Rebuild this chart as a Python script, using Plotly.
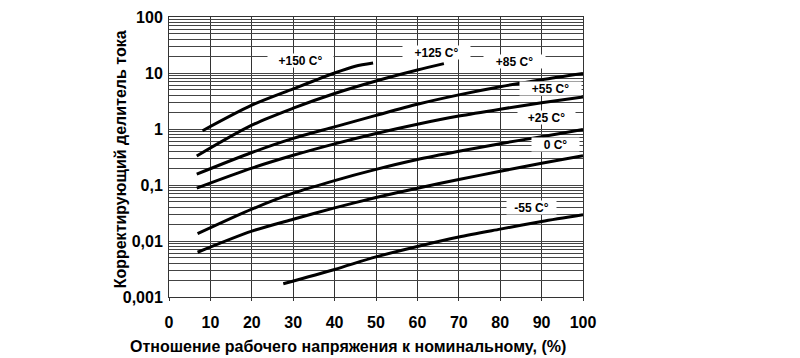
import plotly.graph_objects as go

# ---- data ----
x_150 = [8.1, 20, 30, 40, 45, 49.3]
y_150 = [0.93, 2.66, 5.2, 10.0, 13.2, 15.1]

x_125 = [6.7, 20, 30, 40, 50, 60, 66.4]
y_125 = [0.33, 1.17, 2.35, 4.3, 7.2, 11.3, 14.7]

x_85 = [6.7, 20, 30, 40, 50, 60, 70, 80, 90, 100]
y_85 = [0.156, 0.38, 0.68, 1.09, 1.75, 2.77, 4.07, 5.69, 7.59, 9.8]

x_55 = [6.7, 20, 30, 40, 50, 60, 70, 80, 90, 100]
y_55 = [0.088, 0.20, 0.339, 0.543, 0.832, 1.216, 1.70, 2.26, 2.94, 3.74]

x_25 = [6.9, 20, 30, 40, 50, 60, 70, 80, 90, 100]
y_25 = [0.0135, 0.037, 0.0714, 0.12, 0.19, 0.285, 0.40, 0.547, 0.73, 0.98]

x_0 = [6.9, 20, 30, 40, 50, 60, 70, 80, 90, 100]
y_0 = [0.0063, 0.0150, 0.0245, 0.039, 0.0597, 0.0877, 0.125, 0.176, 0.244, 0.334]

x_m55 = [27.6, 40, 50, 60, 70, 80, 90, 100]
y_m55 = [0.00172, 0.0031, 0.0052, 0.0080, 0.0118, 0.0163, 0.0223, 0.0294]

series = [
    ("+150 C°", x_150, y_150),
    ("+125 C°", x_125, y_125),
    ("+85 C°", x_85, y_85),
    ("+55 C°", x_55, y_55),
    ("+25 C°", x_25, y_25),
    ("0 C°", x_0, y_0),
    ("-55 C°", x_m55, y_m55),
]

# label positions (x in %, y in log10 units)
label_names = ["+150 C°", "+125 C°", "+85 C°", "+55 C°", "+25 C°", "0 C°", "-55 C°"]
label_x = [31.7, 64.6, 83.4, 92.1, 91.1, 93.3, 87.5]
label_logy = [1.226, 1.368, 1.208, 0.728, 0.203, -0.269, -1.407]
label_w = [65, 67, 61, 61, 57, 47, 49]

x_ticks = [0, 10, 20, 30, 40, 50, 60, 70, 80, 90, 100]
y_decades = [0.001, 0.01, 0.1, 1, 10, 100]
y_decade_text = ["0,001", "0,01", "0,1", "1", "10", "100"]

# all log-grid lines (1..9 x decade) with labels only on decades
y_tickvals = []
y_ticktext = []
for d, t in zip(y_decades, y_decade_text):
    if d == 100:
        y_tickvals.append(d)
        y_ticktext.append(t)
        break
    for m in range(1, 10):
        y_tickvals.append(d * m)
        y_ticktext.append(t if m == 1 else "")

FONT = "Liberation Sans, Arial, sans-serif"

# page offset (body margin) compensation
OFF = 8
L, R_EDGE, T, B_EDGE = 168.7, 583.3, 16.5, 297.5
PW, PH = R_EDGE - L, B_EDGE - T

fig = go.Figure()
for name, xs, ys in series:
    fig.add_trace(go.Scatter(
        x=xs, y=ys, mode="lines", name=name,
        line=dict(color="black", width=3, shape="spline", smoothing=0.8),
        showlegend=False, hoverinfo="skip",
    ))

for name, lx, ly, w in zip(label_names, label_x, label_logy, label_w):
    fig.add_annotation(
        x=lx, y=ly, text=name, showarrow=False,
        font=dict(family=FONT, size=12, color="black", weight="bold"),
        bgcolor="white", width=w, height=13, borderpad=0,
        xref="x", yref="y",
    )

fig.add_annotation(
    x=(348 - L) / PW, y=-(347 - B_EDGE) / PH, xref="paper", yref="paper",
    text="Отношение рабочего напряжения к номинальному, (%)", showarrow=False,
    xanchor="center", yanchor="middle",
    font=dict(family=FONT, size=16, color="black", weight="bold"),
)
fig.add_annotation(
    x=(121 - L) / PW, y=(B_EDGE - 159) / PH, xref="paper", yref="paper",
    text="Корректирующий делитель тока", showarrow=False, textangle=-90,
    xanchor="center", yanchor="middle",
    font=dict(family=FONT, size=16, color="black", weight="bold"),
)

fig.update_layout(
    width=800, height=358,
    margin=dict(l=L - OFF, r=800 - (R_EDGE - OFF), t=T - OFF, b=358 - (B_EDGE - OFF)),
    paper_bgcolor="white", plot_bgcolor="white",
    xaxis=dict(
        range=[0, 100], tickvals=x_ticks, ticktext=[str(v) for v in x_ticks],
        showgrid=True, gridcolor="#333333", gridwidth=1, automargin=False,
        zeroline=False, showline=True, linecolor="#333333", linewidth=1, mirror=True,
        ticks="outside", ticklen=3, tickcolor="#333333", ticklabelstandoff=8,
        tickfont=dict(family=FONT, size=16, color="black", weight="bold"),
    ),
    yaxis=dict(
        type="log", range=[-3, 2], tickvals=y_tickvals, ticktext=y_ticktext,
        showgrid=True, gridcolor="#444444", gridwidth=1, automargin=False,
        zeroline=False, showline=True, linecolor="#333333", linewidth=1, mirror=True,
        ticks="", ticklabelstandoff=2,
        tickfont=dict(family=FONT, size=16, color="black", weight="bold"),
    ),
)

fig.write_html("out.html")
